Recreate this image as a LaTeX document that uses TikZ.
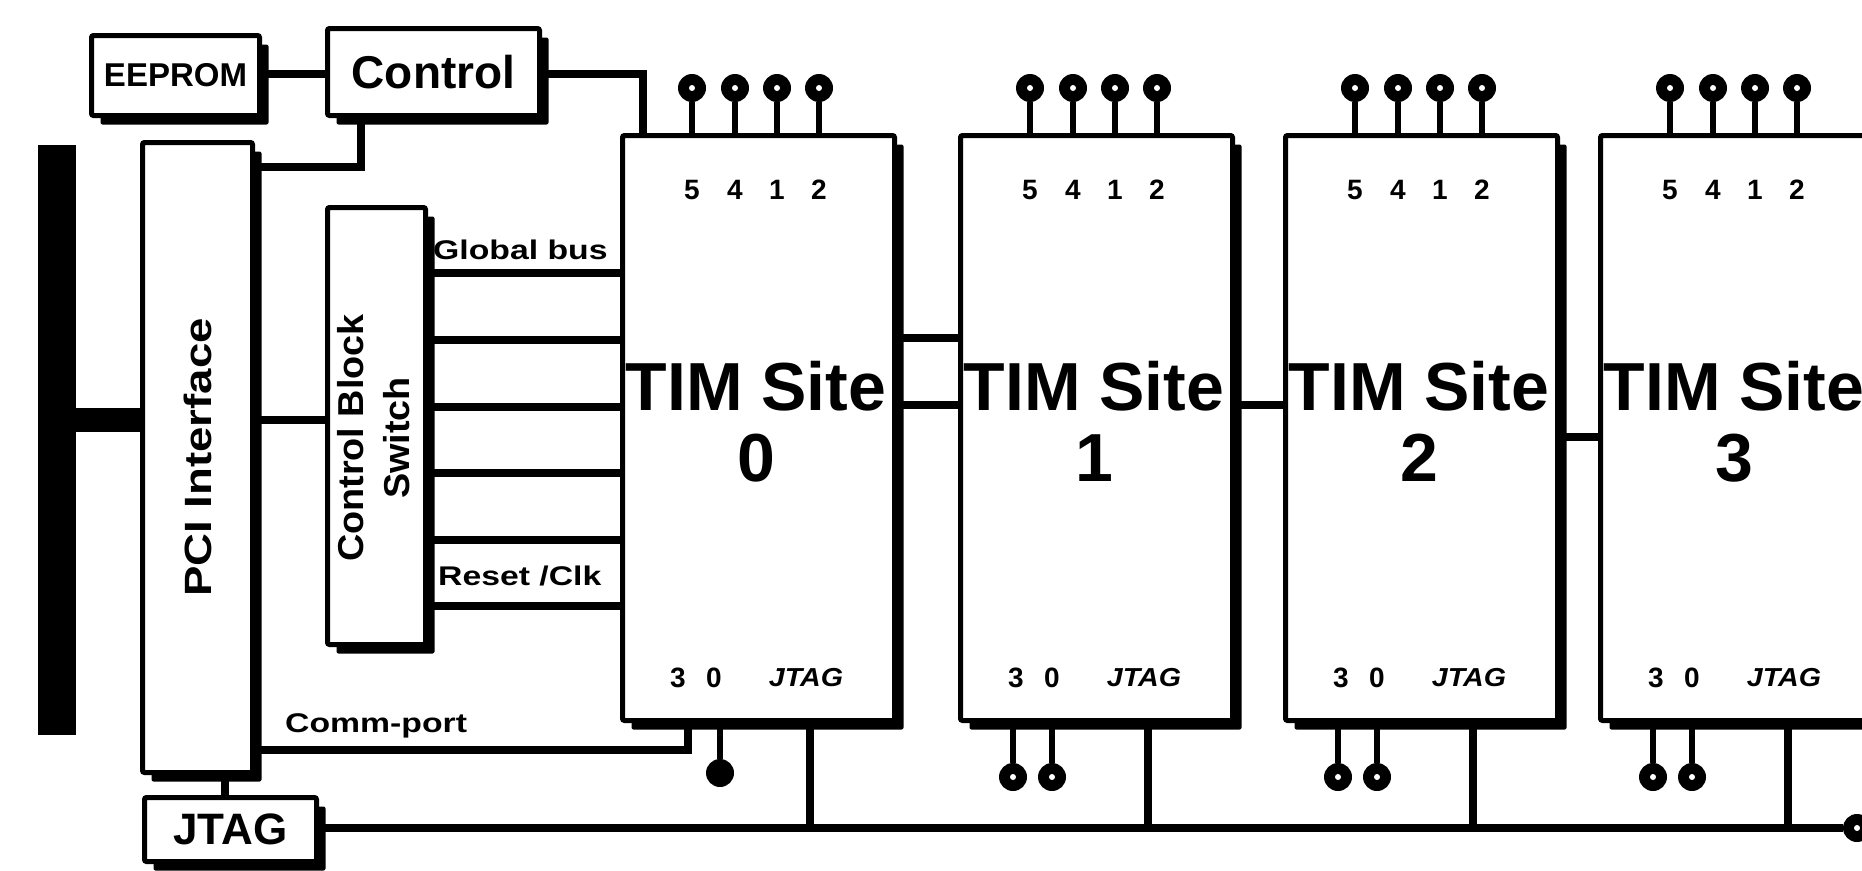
\documentclass[tikz,border=0pt]{standalone}
\usepackage{fontspec}
\setmainfont{Liberation Sans}
\usetikzlibrary{shadows,backgrounds,calc}
\newcommand\fsz[1]{\fontsize{#1}{#1}\selectfont\bfseries}
\begin{document}
\begin{tikzpicture}[x=1pt,y=-1pt,
  box/.style={draw=black, line width=5pt, fill=white, inner sep=0pt, anchor=north west, rounded corners=2pt,
    drop shadow={shadow xshift=9pt, shadow yshift=-9pt, fill=black, opacity=1}},
  wire/.style={line width=8pt},
  pinc/.style={circle, fill=black, minimum size=28pt, inner sep=0pt},
  dotc/.style={circle, fill=white, minimum size=6pt, inner sep=0pt},
  stem/.style={line width=6pt},
  pinno/.style={inner sep=0pt, font=\fsz{28}},
  small/.style={inner sep=0pt, font=\fsz{27}},
]
\path[use as bounding box] (0,0) rectangle (1862,870);
\clip (0,0) rectangle (1862,870);

% PCI edge bar and PCI interface
\node[fill=black, inner sep=0pt, anchor=north west, minimum width=38pt, minimum height=590pt] (bar) at (38,145) {};
\node[box, minimum width=110pt, minimum height=630pt] (pci) at (140,140) {};
\node[rotate=90, inner sep=0pt, font=\fsz{38}] (pcit) at (pci.center) {\scalebox{1.2}[1]{PCI Interface}};

% EEPROM and Control
\node[box, minimum width=168pt, minimum height=80pt] (ee) at (89,33) {};
\node[inner sep=0pt, font=\fsz{33}] at (ee.center) {EEPROM};
\node[box, minimum width=212pt, minimum height=87pt] (ctl) at (325,26) {};
\node[inner sep=0pt, font=\fsz{46}] at (ctl.center) {Control};

% Control block switch
\node[box, minimum width=98pt, minimum height=437pt] (cbs) at (325,205) {};
\node[rotate=90, inner sep=0pt, align=center, font=\fontsize{36}{46}\selectfont\bfseries] (cbst) at (374,438) {\scalebox{1.05}[1]{Control Block}\\\scalebox{1.05}[1]{Switch}};

% JTAG box
\node[box, minimum width=172pt, minimum height=64pt] (jtag) at (142,795) {};
\node[inner sep=0pt, font=\fsz{44}] at (jtag.center) {JTAG};

% TIM sites
\foreach \i/\L in {0/620, 1/958, 2/1283, 3/1598} {
  \node[box, minimum width=272pt, minimum height=585pt] (t\i) at (\L,133) {};
}
\foreach \i in {0,...,3} {
  \node[inner sep=0pt, font=\fsz{68}] at ($(t\i.north west)+(136,253)$) {TIM Site};
  \node[inner sep=0pt, font=\fsz{68}] at ($(t\i.north west)+(136,325)$) {\i};
  \foreach \k/\dx/\d in {1/72/5, 2/115/4, 3/157/1, 4/199/2} {
    \node[pinc] (t\i-u\k) at ($(t\i.north west)+(\dx,-45)$) {};
    \node[dotc] at (t\i-u\k) {};
    \node[pinno] at ($(t\i.north west)+(\dx,57)$) {\d};
  }
  \node[pinno] at ($(t\i.north west)+(58,545)$) {3};
  \node[pinno] at ($(t\i.north west)+(94,545)$) {0};
  \node[inner sep=0pt, font=\fsz{26}\itshape] at ($(t\i.north west)+(186,545)$) {\scalebox{1.1}[1]{JTAG}};
  \coordinate (t\i-j) at ($(t\i.south west)+(190,0)$);
}
\foreach \i in {1,2,3} {
  \foreach \k/\dx in {1/55, 2/94} {
    \node[pinc] (t\i-b\k) at ($(t\i.south west)+(\dx,54)$) {};
    \node[dotc] at (t\i-b\k) {};
  }
}
\node[pinc] (t0-b2) at ($(t0.south west)+(100,50)$) {};
\coordinate (t0-cp) at ($(t0.south west)+(68,0)$);
\node[pinc] (jend) at (1857,828) {};
\node[dotc] at (jend) {};

% labels
\node[small, anchor=west] at (433,250) {\scalebox{1.25}[1]{Global bus}};
\node[small, anchor=west] at (438,576) {\scalebox{1.25}[1]{Reset /Clk}};
\node[small, anchor=west] at (285,726) {\scalebox{1.25}[1]{Comm-port}};

\begin{scope}[on background layer]
  \fill[white] (0,0) rectangle (1862,870);
  \draw[line width=24pt] (bar.east |- 0,420) -- (pci.west |- 0,420);
  \draw[wire] (pci.east |- 0,420) -- (cbs.west |- 0,420);
  \draw[wire] (ee.east |- 0,74) -- (ctl.west |- 0,74);
  \draw[wire] (ctl.east |- 0,74) -| ($(t0.north west)+(23,0)$);
  \draw[wire] (ctl.south -| 361,0) |- (pci.east |- 0,167);
  \foreach \y in {273,340,407,473,540,606}
    \draw[wire] (cbs.east |- 0,\y) -- (t0.west |- 0,\y);
  \draw[wire] (t0.east |- 0,338) -- (t1.west |- 0,338);
  \draw[wire] (t0.east |- 0,405) -- (t1.west |- 0,405);
  \draw[wire] (t1.east |- 0,405) -- (t2.west |- 0,405);
  \draw[wire] (t2.east |- 0,437) -- (t3.west |- 0,437);
  \draw[wire] (pci.south -| 225,0) -- (jtag.north -| 225,0);
  \draw[wire] (jtag.east |- 0,828) -- (jend);
  \foreach \i in {0,...,3}
    \draw[wire] (t\i-j) -- (t\i-j |- 0,828);
  \draw[wire] (pci.east |- 0,750) -| (t0-cp);
  \draw[stem] (t0-b2) -- (t0-b2 |- t0.south);
  \foreach \i in {0,...,3}
    \foreach \k in {1,...,4}
      \draw[stem] (t\i-u\k) -- (t\i-u\k |- t\i.north);
  \foreach \i in {1,2,3}
    \foreach \k in {1,2}
      \draw[stem] (t\i-b\k) -- (t\i-b\k |- t\i.south);
\end{scope}
\end{tikzpicture}
\end{document}
